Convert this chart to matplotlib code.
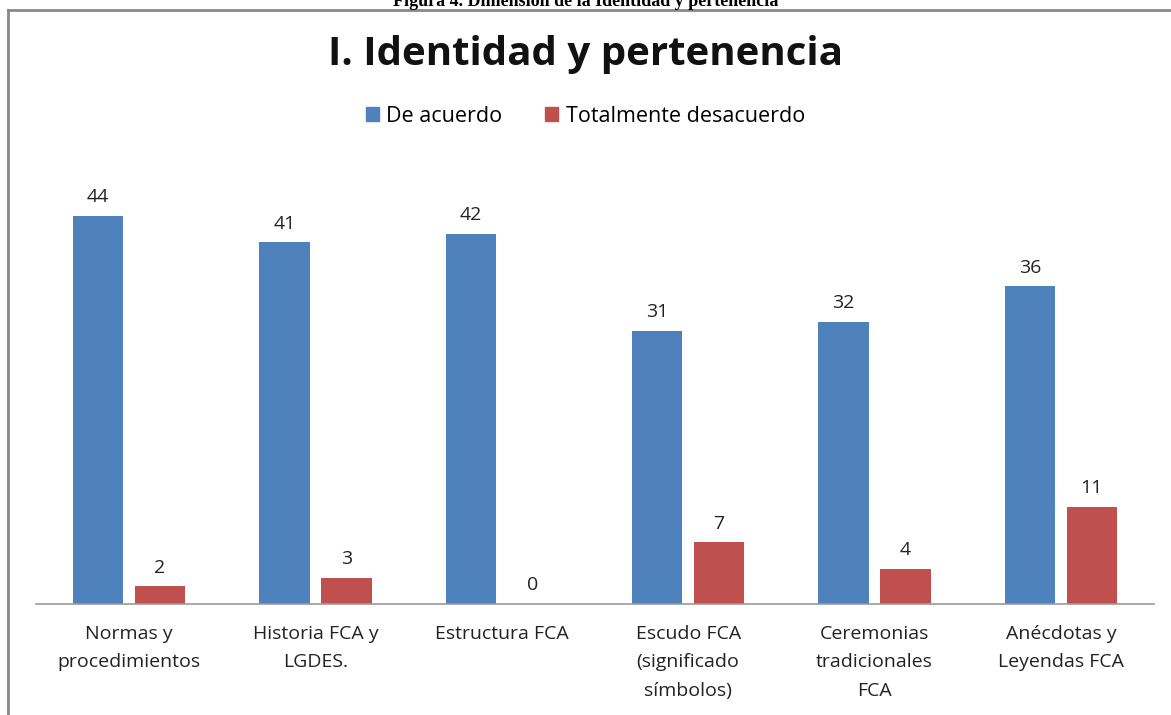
import matplotlib.pyplot as plt
from matplotlib.lines import Line2D
from matplotlib.patches import Patch
import numpy as np

categorias = ["Normas y\nprocedimientos", "Historia FCA y\nLGDES.", "Estructura FCA",
              "Escudo FCA\n(significado\nsímbolos)", "Ceremonias\ntradicionales\nFCA",
              "Anécdotas y\nLeyendas FCA"]
de_acuerdo = [44, 41, 42, 31, 32, 36]
desacuerdo = [2, 3, 0, 7, 4, 11]
series = ["De acuerdo", "Totalmente desacuerdo"]

azul = "#4F81BD"
rojo = "#C0504D"
fuente = ["Open Sans", "DejaVu Sans"]

fig = plt.figure(figsize=(11.71, 7.15), dpi=100)
W, H = 1171, 715

# plot area in pixels: x 36..1154, y 163..604
ax = fig.add_axes([36 / W, 1 - 604 / H, (1154 - 36) / W, (604 - 163) / H])

x = np.arange(len(categorias))
ancho = 0.27
b1 = ax.bar(x - 0.166, de_acuerdo, ancho, color=azul)
b2 = ax.bar(x + 0.166, desacuerdo, ancho, color=rojo)

for barras in (b1, b2):
    for b in barras:
        ax.annotate(str(int(b.get_height())), (b.get_x() + b.get_width() / 2, b.get_height()),
                    xytext=(0, 7), textcoords="offset points", ha="center", va="bottom",
                    fontsize=14, family=fuente, color="#222222")

ax.set_xlim(-0.5, len(categorias) - 0.5)
ax.set_ylim(0, 50)
ax.set_yticks([])
ax.set_xticks(x)
ax.set_xticklabels(categorias, fontsize=14, family=fuente, color="#222222", linespacing=1.75)
ax.tick_params(axis="x", length=0, pad=15)
for s in ["top", "right", "left"]:
    ax.spines[s].set_visible(False)
ax.spines["bottom"].set_color("#9a9a9a")
ax.spines["bottom"].set_linewidth(1.2)

fig.text(0.5, 1 - 54 / H, "I. Identidad y pertenencia", ha="center", va="center",
         fontsize=29, fontweight="bold", family=fuente, color="#111111")

handles = [Patch(color=azul), Patch(color=rojo)]
fig.legend(handles, series, loc="center", bbox_to_anchor=(0.5, 1 - 116 / H), ncol=2,
           frameon=False, prop={"family": fuente, "size": 15.5}, handlelength=0.6,
           handleheight=0.6, handletextpad=0.35, columnspacing=2.0)

# caption cut at the top
fig.text(0.5, 1 - 2 / H, "Figura 4. Dimensión de la Identidad y pertenencia", ha="center",
         va="center", fontsize=13, fontweight="bold", family="Liberation Serif")

# chart frame
fig.add_artist(Line2D([8 / W, 8 / W], [0, 1 - 10 / H], transform=fig.transFigure,
                      color="#888888", lw=2))
fig.add_artist(Line2D([8 / W, 1], [1 - 10 / H, 1 - 10 / H], transform=fig.transFigure,
                      color="#888888", lw=2))

fig.savefig("out.png", dpi=100)
